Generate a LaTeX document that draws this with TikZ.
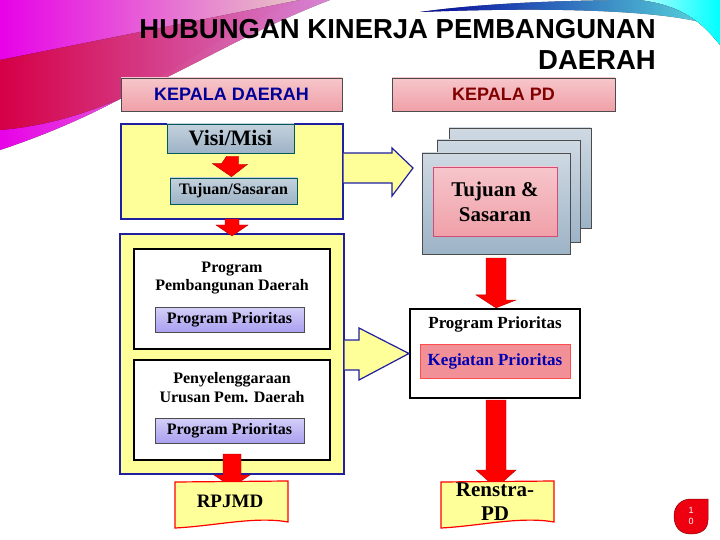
\documentclass[tikz,border=0pt]{standalone}
\usepackage{fontspec}
\setmainfont{Liberation Serif}
\newfontfamily\titlefont{Liberation Sans}
\usetikzlibrary{calc}
\definecolor{yel}{HTML}{FFFF99}
\definecolor{bluebd}{HTML}{1F1FA0}
\definecolor{steel}{HTML}{9DB3C6}
\definecolor{pinkbox}{HTML}{F0A0A8}
\definecolor{purp}{HTML}{A9A0F0}
\definecolor{redar}{HTML}{FF0000}
\tikzset{
  yelbox/.style={fill=yel,draw=bluebd,line width=1.2pt},
  headbox/.style={draw=black!70,line width=0.8pt,top color=pinkbox!60,bottom color=pinkbox},
  steelbox/.style={draw=teal!70!black,line width=0.6pt,top color=steel!60,bottom color=steel,font=\bfseries},
  blackbox/.style={draw=black,line width=2.2pt,fill=white},
  purpbox/.style={draw=black!70,line width=0.6pt,top color=purp!50,bottom color=purp,font=\bfseries\fontsize{16}{17}\selectfont},
  redarrow/.style={fill=redar,draw=red!70!black,line width=0.4pt},
  bigarrow/.style={fill=yel,draw=bluebd,line width=1.2pt},
  docshape/.style={fill=yel,draw=red,line width=1.2pt},
  lbl/.style={font=\bfseries\fontsize{16}{18.5}\selectfont,align=center}
}
\begin{document}
\begin{tikzpicture}[x=1pt,y=-1pt]
\useasboundingbox (0,0) rectangle (720,540);
% decorative swooshes
\fill[left color=magenta,right color=pink!60,opacity=0.9] (0,0) -- (300,0) .. controls (200,40) and (150,100) .. (0,150) -- cycle;
\fill[left color=red!70!magenta,right color=magenta!40,opacity=0.8] (0,60) .. controls (100,40) and (200,20) .. (300,0) -- (330,0) .. controls (200,50) and (120,120) .. (0,130) -- cycle;
\fill[left color=blue!70!black,right color=cyan!60,opacity=0.85] (420,12) .. controls (520,-2) and (650,0) .. (720,0) -- (720,30) .. controls (700,15) and (600,5) .. (420,12) -- cycle;
\fill[left color=cyan!30,right color=cyan] (640,0) -- (720,0) -- (720,45) .. controls (700,20) and (680,5) .. (640,0) -- cycle;
% title
\node[anchor=north east,align=right,font=\titlefont\bfseries\fontsize{27.5}{31}\selectfont,inner sep=0] (title) at (656,19) {HUBUNGAN KINERJA PEMBANGUNAN\\DAERAH};
% headers
\node[headbox,minimum width=221,minimum height=33,font=\titlefont\bfseries\fontsize{18}{20}\selectfont,text=blue!60!black] (kd) at (231.5,94.5) {KEPALA DAERAH};
\node[headbox,minimum width=223,minimum height=33,font=\titlefont\bfseries\fontsize{18}{20}\selectfont,text=red!50!black] (kpd) at (503.5,94.5) {KEPALA PD};
% upper yellow area
\node[yelbox,minimum width=222,minimum height=95] (up) at (232,171.5) {};
\node[steelbox,minimum width=127,minimum height=29,font=\bfseries\fontsize{22}{24}\selectfont] (visi) at (230.5,138.5) {Visi/Misi};
\node[steelbox,minimum width=127,minimum height=26,font=\bfseries\fontsize{16}{17}\selectfont] (tuj) at (233.5,191) {Tujuan/Sasaran};
% lower yellow area
\node[yelbox,minimum width=224,minimum height=240] (low) at (232,354) {};
\node[blackbox,minimum width=196,minimum height=100] (b1) at (232,299) {};
\node[lbl,anchor=north] (t1) at (232,258) {Program\\Pembangunan Daerah};
\node[purpbox,minimum width=149,minimum height=25] (p1) at (229.5,319.5) {Program Prioritas};
\node[blackbox,minimum width=196,minimum height=100] (b2) at (232,410) {};
\node[lbl,anchor=north] (t2) at (232,369) {Penyelenggaraan\\Urusan Pem. Daerah};
\node[purpbox,minimum width=149,minimum height=25] (p2) at (229.5,430.5) {Program Prioritas};
% stacked boxes
\node[draw=black!70,line width=0.6pt,top color=steel!50,bottom color=steel,minimum width=142,minimum height=100] (s3) at (520,178) {};
\node[draw=black!70,line width=0.6pt,top color=steel!50,bottom color=steel,minimum width=143,minimum height=102] (s2) at (508.5,191) {};
\node[draw=black!70,line width=0.6pt,top color=steel!50,bottom color=steel,minimum width=148,minimum height=101] (s1) at (496,203.5) {};
\node[draw=purple!70,line width=0.6pt,top color=pinkbox!60,bottom color=pinkbox,minimum width=124,minimum height=69,font=\bfseries\fontsize{21}{25}\selectfont,align=center] (ts) at (495,201.5) {Tujuan \&\\Sasaran};
% right black box
\node[blackbox,minimum width=170,minimum height=89] (rb) at (495,353.5) {};
\node[lbl,anchor=north,font=\bfseries\fontsize{17}{18}\selectfont] (pp) at (495,313) {Program Prioritas};
\node[draw=red!70,line width=0.6pt,fill=pinkbox!90!red,minimum width=150,minimum height=34,font=\bfseries\fontsize{17}{18}\selectfont,text=blue!70!black] (kp) at (495,361) {Kegiatan Prioritas};
% big yellow arrows
\draw[bigarrow] (up.east |- 0,153) -- (392,153) -- (392,148) -- (413,168) -- (392,196) -- (392,183) -- (up.east |- 0,183);
\draw[bigarrow] (low.east |- 0,340) -- (359,340) -- (359,328) -- (rb.west) -- (359,380) -- (359,370) -- (low.east |- 0,370);
% red arrows
\coordinate (a1) at ($(visi.south)+(2,3)$);
\draw[redarrow] ($(a1)+(-6,0)$) -- ++(12,0) -- ++(0,8) -- ++(9,0) -- ($(tuj.north)+(-2,-1)$) -- ++(-19,-13) -- ++(9,0) -- cycle;
\coordinate (a2) at (232,219);
\draw[redarrow] ($(a2)+(-7,0)$) -- ++(14,0) -- ++(0,6) -- ++(9,0) -- (232,236) -- ++(-16,-11) -- ++(9,0) -- cycle;
\coordinate (a3) at (232,454);
\draw[redarrow] ($(a3)+(-9,0)$) -- ++(18,0) -- ++(0,21) -- ++(9,0) -- (232,487) -- ++(-18,-12) -- ++(9,0) -- cycle;
\coordinate (a4) at (496,258);
\draw[redarrow] ($(a4)+(-10,0)$) -- ++(20,0) -- ++(0,42) -- ++(10,0) -- (rb.north -| 496,0) -- ++(-20,-13) -- ++(10,0) -- cycle;
\coordinate (a5) at (496,400);
\draw[redarrow] ($(a5)+(-10,0)$) -- ++(20,0) -- ++(0,70) -- ++(10,0) -- (496,488) -- ++(-20,-18) -- ++(10,0) -- cycle;
% documents
\draw[docshape] (175,482) -- (288,481) -- (288,522) .. controls (255,516) and (215,526) .. (175,528) -- cycle;
\node[font=\bfseries\fontsize{19}{22}\selectfont] (rp) at (230,501) {RPJMD};
\draw[docshape] (441,482) -- (554,481) -- (554,522) .. controls (520,516) and (480,526) .. (441,528) -- cycle;
\node[font=\bfseries\fontsize{21}{24}\selectfont,align=center] (rs) at (495,502) {Renstra-\\PD};
% page number
\draw[fill=red!75!purple,draw=red!50!black,line width=0.5pt] (708,499) -- (708,520) .. controls (708,530) and (700,534) .. (691,534) .. controls (680,534) and (674,527) .. (674,516) .. controls (674,505) and (682,499) .. (691,499) -- cycle;
\node[text=white,font=\titlefont\fontsize{9}{11}\selectfont,align=center] (pg) at (691,516) {1\\0};
\end{tikzpicture}
\end{document}
